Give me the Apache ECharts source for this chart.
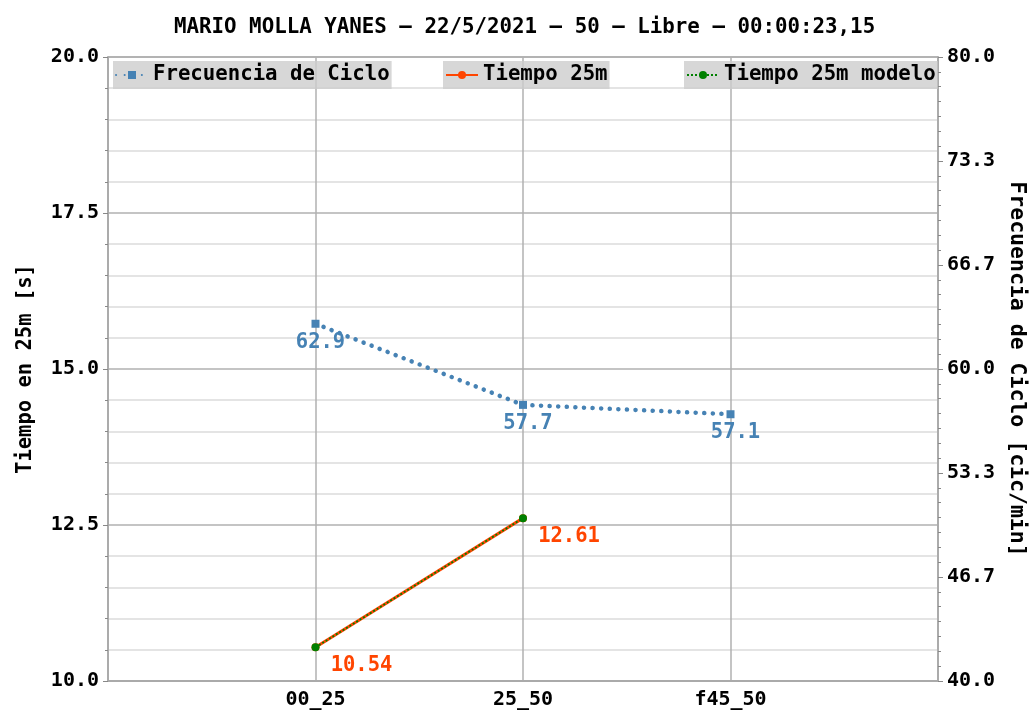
<!DOCTYPE html>
<html>
<head>
<meta charset="utf-8">
<script src="https://cdn.jsdelivr.net/npm/echarts@6/dist/echarts.min.js"></script>
<style>
html,body{margin:0;padding:0;background:#fff;}
#chart{width:1031px;height:711px;}
</style>
</head>
<body>
<div id="chart"></div>
<script>
// ---- data ----
const titleText = 'MARIO MOLLA YANES \u2013 22/5/2021 \u2013 50 \u2013 Libre \u2013 00:00:23,15';
const categories = ['', '00_25', '25_50', 'f45_50', ''];
const frecuenciaCiclo = [null, 62.9, 57.7, 57.1, null];
const tiempo25m = [null, 10.54, 12.61, null, null];
const tiempo25mModelo = [null, 10.54, 12.61, null, null];
const leftAxisName = 'Tiempo en 25m [s]';
const rightAxisName = 'Frecuencia de Ciclo [cic/min]';
const seriesNames = ['Frecuencia de Ciclo', 'Tiempo 25m', 'Tiempo 25m modelo'];

const FONT = 'DejaVu Sans Mono';
const chart = echarts.init(document.getElementById('chart'), null, {renderer: 'canvas'});

const legendBase = {
  top: 61,
  orient: 'horizontal',
  backgroundColor: 'rgba(205,205,205,0.8)',
  padding: [3, 2, 3, 2],
  itemWidth: 32,
  itemHeight: 10,
  textStyle: {fontFamily: FONT, fontWeight: 'bold', fontSize: 20.7, color: '#000', lineHeight: 22},
  selectedMode: false
};

const option = {
  animation: false,
  backgroundColor: '#fff',
  title: {
    text: titleText,
    left: 169,
    top: 12,
    textStyle: {fontFamily: FONT, fontWeight: 'bold', fontSize: 20.8, color: '#000'}
  },
  legend: [
    Object.assign({}, legendBase, {left: 113, data: [seriesNames[0]]}),
    Object.assign({}, legendBase, {left: 443, data: [seriesNames[1]]}),
    Object.assign({}, legendBase, {left: 684, data: [seriesNames[2]]})
  ],
  grid: {
    left: 108, right: 93, top: 57, bottom: 30,
    outerBoundsMode: 'none',
    containLabel: false,
    show: true, borderColor: '#a8a8a8', borderWidth: 1.5, backgroundColor: 'transparent'
  },
  xAxis: {
    type: 'category',
    data: categories,
    boundaryGap: false,
    axisLine: {show: true, lineStyle: {color: '#a8a8a8', width: 1.5}},
    axisTick: {show: false},
    axisLabel: {fontFamily: FONT, fontWeight: 'bold', fontSize: 20, color: '#000', margin: 9, interval: 0},
    splitLine: {show: true, lineStyle: {color: '#b0b0b0', width: 1.5}}
  },
  yAxis: [
    {
      type: 'value',
      min: 10, max: 20, interval: 2.5,
      position: 'left',
      name: leftAxisName,
      nameLocation: 'middle',
      nameGap: 72,
      nameRotate: 90,
      nameTextStyle: {fontFamily: FONT, fontWeight: 'bold', fontSize: 20.5, color: '#000'},
      axisLine: {show: true, lineStyle: {color: '#a8a8a8', width: 1.5}},
      axisTick: {show: true, length: 5, lineStyle: {color: '#888'}},
      minorTick: {show: true, splitNumber: 5, length: 3, lineStyle: {color: '#888'}},
      axisLabel: {fontFamily: FONT, fontWeight: 'bold', fontSize: 20, color: '#000', margin: 9,
        formatter: v => v.toFixed(1)},
      splitLine: {show: true, lineStyle: {color: '#b0b0b0', width: 1.5}},
      minorSplitLine: {show: true, lineStyle: {color: '#dcdcdc', width: 1.5}}
    },
    {
      type: 'value',
      min: 40, max: 80, interval: 20 / 3,
      position: 'right',
      name: rightAxisName,
      nameLocation: 'middle',
      nameGap: 68,
      nameRotate: -90,
      nameTextStyle: {fontFamily: FONT, fontWeight: 'bold', fontSize: 21.5, color: '#000'},
      axisLine: {show: true, lineStyle: {color: '#a8a8a8', width: 1.5}},
      axisTick: {show: true, length: 5, lineStyle: {color: '#888'}},
      minorTick: {show: true, splitNumber: 7, length: 3, lineStyle: {color: '#888'}},
      axisLabel: {fontFamily: FONT, fontWeight: 'bold', fontSize: 20, color: '#000', margin: 9,
        formatter: v => v.toFixed(1)},
      splitLine: {show: false},
      minorSplitLine: {show: false}
    }
  ],
  series: [
    {
      name: seriesNames[0],
      type: 'line',
      yAxisIndex: 1,
      data: frecuenciaCiclo,
      color: '#4682b4',
      symbol: 'rect',
      symbolSize: 8,
      lineStyle: {type: [0.1, 8.5], cap: 'round', width: 4.5, color: '#4682b4'},
      itemStyle: {color: '#4682b4'},
      label: {
        show: true, position: 'bottom', distance: 4, offset: [5, 0],
        fontFamily: FONT, fontWeight: 'bold', fontSize: 20.5, color: '#4682b4',
        formatter: p => p.value.toFixed(1)
      },
      z: 3
    },
    {
      name: seriesNames[1],
      type: 'line',
      yAxisIndex: 0,
      data: tiempo25m,
      color: '#ff4500',
      symbol: 'circle',
      symbolSize: 8,
      lineStyle: {type: 'solid', width: 3, color: '#ff4500'},
      itemStyle: {color: '#ff4500'},
      label: {
        show: true, position: 'bottom', distance: 4, offset: [46, 0],
        fontFamily: FONT, fontWeight: 'bold', fontSize: 20.5, color: '#ff4500',
        formatter: p => p.value.toFixed(2)
      },
      z: 4
    },
    {
      name: seriesNames[2],
      type: 'line',
      yAxisIndex: 0,
      data: tiempo25mModelo,
      color: '#008000',
      symbol: 'circle',
      symbolSize: 8,
      lineStyle: {type: [2, 2], width: 1.8, color: '#008000'},
      itemStyle: {color: '#008000'},
      label: {show: false},
      z: 5
    }
  ]
};
chart.setOption(option);
</script>
</body>
</html>
